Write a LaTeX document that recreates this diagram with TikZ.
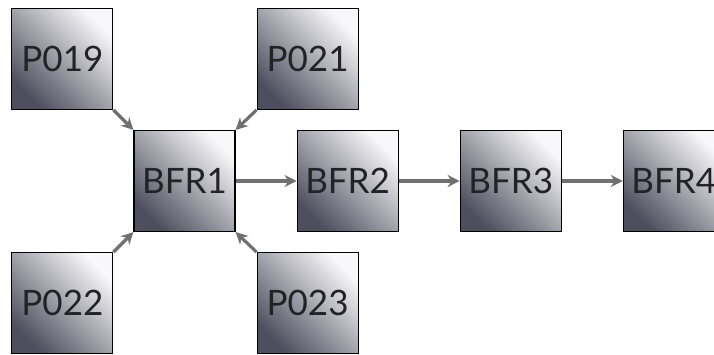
\documentclass[tikz,border=0pt]{standalone}
\usepackage{fontspec}
\setmainfont{Lato}
\usepackage{xcolor}
\definecolor{boxlight}{RGB}{248, 248, 250}
\definecolor{boxdark}{RGB}{78, 78, 94}
\definecolor{arrowgrey}{RGB}{112, 112, 112}
\definecolor{labelink}{RGB}{34, 34, 40}
\usepackage{tikz}
\usetikzlibrary{positioning, arrows.meta}

\begin{document}
\begin{tikzpicture}[
  node distance=61pt and 61pt,
  block/.style={rectangle, draw=black, line width=1.1pt, minimum width=101pt, minimum height=101pt, inner sep=0pt,
    shading=axis, top color=boxlight, bottom color=boxdark, shading angle=-45,
    text=labelink, font=\fontsize{35}{36}\selectfont},
  arrow/.style={-{Stealth[length=12pt, width=12pt]}, line width=3.2pt, color=arrowgrey}
]
\useasboundingbox (0,0) rectangle (714pt,354pt);
% Chain of buffers
\node[block] (bfr1) at (184.5pt,173pt) {BFR1};
\node[block, right=of bfr1] (bfr2) {BFR2};
\node[block, right=of bfr2] (bfr3) {BFR3};
\node[block, right=of bfr3] (bfr4) {BFR4};
% Feeding ports
\node[block, above left=20pt and 20pt of bfr1] (p019) {P019};
\node[block, above right=20pt and 21pt of bfr1] (p021) {P021};
\node[block, below left=20pt and 20pt of bfr1] (p022) {P022};
\node[block, below right=20pt and 21pt of bfr1] (p023) {P023};
% Arrows
\draw[arrow] (p019.south east) -- (bfr1.north west);
\draw[arrow] (p021.south west) -- (bfr1.north east);
\draw[arrow] (p022.north east) -- (bfr1.south west);
\draw[arrow] (p023.north west) -- (bfr1.south east);
\draw[arrow] (bfr1) -- (bfr2);
\draw[arrow] (bfr2) -- (bfr3);
\draw[arrow] (bfr3) -- (bfr4);
\end{tikzpicture}
\end{document}
